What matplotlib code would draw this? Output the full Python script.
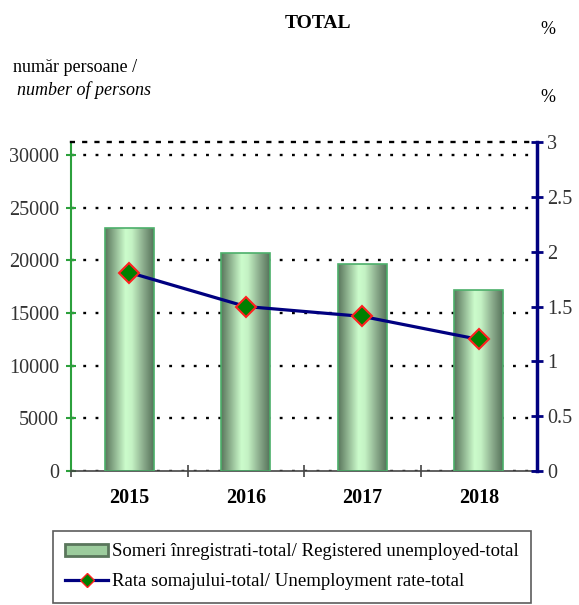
import matplotlib
matplotlib.use('Agg')
import matplotlib.pyplot as plt
import numpy as np
from matplotlib.colors import LinearSegmentedColormap
from matplotlib.lines import Line2D
from matplotlib.patches import Patch

years = ['2015', '2016', '2017', '2018']
registered = [23100, 20700, 19700, 17200]
rate = [1.81, 1.50, 1.41, 1.20]
left_ticks = [0, 5000, 10000, 15000, 20000, 25000, 30000]
right_ticks = [0, 0.5, 1, 1.5, 2, 2.5, 3]
right_labels = ['0', '0.5', '1', '1.5', '2', '2.5', '3']

plt.rcParams['font.family'] = 'Liberation Serif'

fig = plt.figure(figsize=(5.79, 6.05), dpi=100)
ax = fig.add_axes([71 / 579, 1 - 471 / 605, 466 / 579, 329 / 605])
ax2 = ax.twinx()

x = np.arange(len(years))
bars = ax.bar(x, registered, 0.42, color='none', edgecolor='#4caf6a', linewidth=1.2, zorder=3)

# cylinder-like shading for the bars
cmap = LinearSegmentedColormap.from_list('cyl', [
    (0.0, '#5a765c'), (0.2, '#90b591'), (0.42, '#ccfccc'),
    (0.55, '#c4f2c4'), (0.8, '#88a889'), (1.0, '#56735a')])
grad = np.linspace(0, 1, 200).reshape(1, -1)
for b in bars:
    bx, bw, bh = b.get_x(), b.get_width(), b.get_height()
    im = ax.imshow(grad, cmap=cmap, aspect='auto', extent=(bx, bx + bw, 0, bh), zorder=2)
    im.set_clip_path(b)

ax.set_xlim(-0.5, 3.5)
ax.set_ylim(0, 31250)
ax2.set_ylim(0, 3)

# gridlines
dots = (0, (1.2, 4))
for t in left_ticks:
    ax.axhline(t, color='black', lw=1.7, linestyle=dots, zorder=1)
ax.spines['top'].set_linestyle(dots)
ax.spines['top'].set_linewidth(1.7)
ax2.spines['top'].set_visible(False)

ax.set_yticks(left_ticks)
ax.set_yticklabels([str(t) for t in left_ticks])
ax.tick_params(axis='y', direction='inout', length=7, width=1.5, color='#2ca03c',
               labelsize=14.5, pad=5, labelcolor='#333333')
ax.spines['left'].set_color('#2ca03c')
ax.spines['left'].set_linewidth(1.5)
ax.spines['right'].set_visible(False)
ax.spines['bottom'].set_color('#444444')
ax.spines['bottom'].set_linewidth(1.2)

ax.set_xticks([-0.5, 0.5, 1.5, 2.5])
ax.set_xticklabels([])
ax.tick_params(axis='x', which='major', direction='inout', length=9, width=1.2, color='#444444')
ax.set_xticks(x, minor=True)
ax.set_xticklabels(years, minor=True, fontweight='bold', fontsize=14.5)
ax.tick_params(axis='x', which='minor', length=0, pad=12)

ax2.spines['right'].set_color('#000080')
ax2.spines['right'].set_linewidth(2.5)
ax2.spines['left'].set_visible(False)
ax2.spines['bottom'].set_visible(False)
ax2.set_yticks(right_ticks)
ax2.set_yticklabels(right_labels)
ax2.tick_params(axis='y', direction='inout', length=9, width=2, color='#000080',
                labelsize=14.5, pad=3, labelcolor='#333333')

ax2.plot(x, rate, color='#000080', lw=2.3, marker='D', markersize=10.5,
         markerfacecolor='#008000', markeredgecolor='#ff2020', markeredgewidth=1.5, zorder=5)

fig.text(318 / 579, 1 - 23 / 605, 'TOTAL', ha='center', va='center', fontsize=14, fontweight='bold')
fig.text(548 / 579, 1 - 30 / 605, '%', ha='center', va='center', fontsize=13)
fig.text(548 / 579, 1 - 97 / 605, '%', ha='center', va='center', fontsize=13)
fig.text(13 / 579, 1 - 68 / 605, 'număr persoane /', ha='left', va='center', fontsize=13)
fig.text(17 / 579, 1 - 90 / 605, 'number of persons', ha='left', va='center', fontsize=13,
         fontstyle='italic')

handles = [Patch(facecolor='#9ccc9d', edgecolor='#5a765c', linewidth=2),
           Line2D([], [], color='#000080', lw=2.3, marker='D', markersize=7,
                  markerfacecolor='#008000', markeredgecolor='#ff2020')]
labels = ['Someri înregistrati-total/ Registered unemployed-total',
          'Rata somajului-total/ Unemployment rate-total']
leg = fig.legend(handles, labels, loc='upper left', bbox_to_anchor=(53 / 579, 1 - 531 / 605),
                 fontsize=13.5, frameon=True, fancybox=False, edgecolor='#333333',
                 handlelength=2.3, handleheight=0.6, handletextpad=0.2, borderpad=0.65,
                 labelspacing=0.7, borderaxespad=0)
leg.get_frame().set_linewidth(1.2)

fig.savefig('out.png', dpi=100)
